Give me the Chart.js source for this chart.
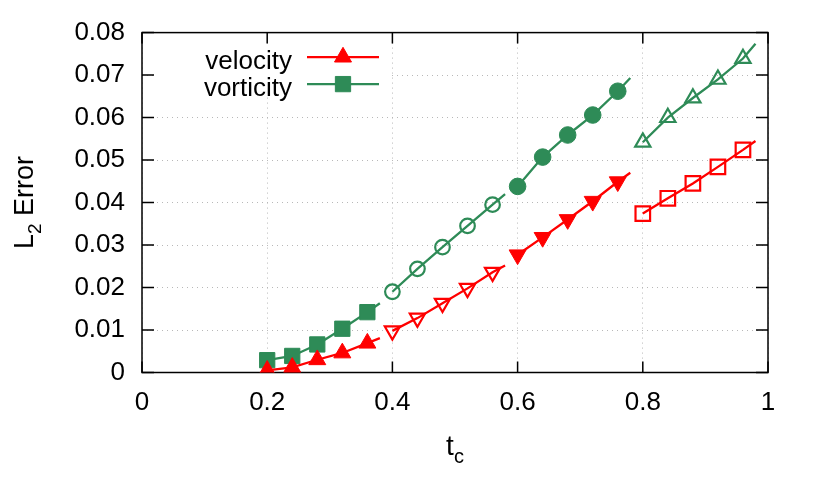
<!DOCTYPE html>
<html><head><meta charset="utf-8">
<script src="https://cdn.jsdelivr.net/npm/chart.js@4.4.1/dist/chart.umd.min.js"></script>
<style>html,body{margin:0;padding:0;background:#fff;}canvas{display:block;}</style>
</head><body>
<canvas id="c" width="814" height="488"></canvas>
<script>
// ---- tick values / labels ----
const xTickValues = [0, 0.2, 0.4, 0.6, 0.8, 1];
const xTickLabels = ['0', '0.2', '0.4', '0.6', '0.8', '1'];
const yTickValues = [0, 0.01, 0.02, 0.03, 0.04, 0.05, 0.06, 0.07, 0.08];
const yTickLabels = ['0', '0.01', '0.02', '0.03', '0.04', '0.05', '0.06', '0.07', '0.08'];

// ---- t_c values of each segment (last value = end of the drawn line, no marker) ----
const seg1X = [0.20, 0.24, 0.28, 0.32, 0.36, 0.38];
const seg2X = [0.40, 0.44, 0.48, 0.52, 0.56, 0.58];
const seg3X = [0.60, 0.64, 0.68, 0.72, 0.76, 0.78];
const seg4X = [0.80, 0.84, 0.88, 0.92, 0.96, 0.98];

// ---- L2 error, velocity ----
const velocity1 = [0.0005, 0.0012, 0.0030, 0.0046, 0.0069, 0.0081];
const velocity2 = [0.0098, 0.0128, 0.0163, 0.0198, 0.0236, 0.0252];
const velocity3 = [0.0277, 0.0318, 0.0360, 0.0403, 0.0449, 0.0470];
const velocity4 = [0.0374, 0.0410, 0.0445, 0.0484, 0.0524, 0.0545];

// ---- L2 error, vorticity ----
const vorticity1 = [0.0029, 0.0039, 0.0066, 0.0103, 0.0142, 0.0163];
const vorticity2 = [0.0190, 0.0244, 0.0295, 0.0345, 0.0395, 0.0420];
const vorticity3 = [0.0438, 0.0507, 0.0559, 0.0606, 0.0662, 0.0693];
const vorticity4 = [0.0542, 0.0600, 0.0646, 0.0690, 0.0739, 0.0774];

const seriesNames = ['velocity', 'vorticity'];

const RED = '#ff0000';
const GREEN = '#2e8b57';
const FONT = '"Liberation Sans", Arial, Helvetica, sans-serif';
const FS = 26;

function pts(xs, ys) { return xs.map((x, i) => ({ x: x, y: ys[i] })); }
function radii(r, n) { const a = []; for (let i = 0; i < n; i++) a.push(i === n - 1 ? 0 : r); return a; }

function ds(label, xs, ys, color, style, r, filled, rot) {
  return {
    label: label,
    data: pts(xs, ys),
    borderColor: color,
    borderWidth: 2.3,
    pointStyle: style,
    pointRadius: radii(r, xs.length),
    pointHoverRadius: radii(r, xs.length),
    pointRotation: rot || 0,
    pointBackgroundColor: filled ? color : 'rgba(0,0,0,0)',
    pointBorderColor: color,
    pointBorderWidth: filled ? 1 : 2.2,
    fill: false,
    tension: 0
  };
}

const datasets = [
  ds(seriesNames[0], seg1X, velocity1, RED, 'triangle', 9.8, true, 0),
  ds(seriesNames[0], seg2X, velocity2, RED, 'triangle', 8.8, false, 180),
  ds(seriesNames[0], seg3X, velocity3, RED, 'triangle', 9.8, true, 180),
  ds(seriesNames[0], seg4X, velocity4, RED, 'rect', 10.3, false, 0),
  ds(seriesNames[1], seg1X, vorticity1, GREEN, 'rect', 10.8, true, 0),
  ds(seriesNames[1], seg2X, vorticity2, GREEN, 'circle', 7.3, false, 0),
  ds(seriesNames[1], seg3X, vorticity3, GREEN, 'circle', 8.3, true, 0),
  ds(seriesNames[1], seg4X, vorticity4, GREEN, 'triangle', 8.8, false, 0)
];

function drawSubText(ctx, parts, cx, baseY, size) {
  let total = 0;
  parts.forEach(p => {
    ctx.font = (p.sub ? Math.round(size * 0.72) : size) + 'px ' + FONT;
    p.w = ctx.measureText(p.t).width; total += p.w;
  });
  let x = cx - total / 2;
  parts.forEach(p => {
    ctx.font = (p.sub ? Math.round(size * 0.72) : size) + 'px ' + FONT;
    ctx.fillText(p.t, x, baseY + (p.sub ? 8 : 0));
    x += p.w;
  });
}

const decor = {
  id: 'decor',
  beforeDatasetsDraw(chart) {
    const ctx = chart.ctx, a = chart.chartArea;
    ctx.save();
    // opaque key box
    ctx.fillStyle = '#fff';
    ctx.fillRect(a.left + 15, a.top + 11, 232, 52);
    // border
    ctx.strokeStyle = '#000';
    ctx.lineWidth = 1.5;
    ctx.strokeRect(a.left, a.top, a.right - a.left, a.bottom - a.top);
    // inward ticks
    ctx.beginPath();
    yTickValues.forEach(v => {
      const y = chart.scales.y.getPixelForValue(v);
      ctx.moveTo(a.left, y); ctx.lineTo(a.left + 12, y);
      ctx.moveTo(a.right, y); ctx.lineTo(a.right - 12, y);
    });
    xTickValues.forEach(v => {
      const x = chart.scales.x.getPixelForValue(v);
      ctx.moveTo(x, a.bottom); ctx.lineTo(x, a.bottom - 11);
      ctx.moveTo(x, a.top); ctx.lineTo(x, a.top + 11);
    });
    ctx.stroke();
    ctx.restore();
  },
  afterDraw(chart) {
    const ctx = chart.ctx, a = chart.chartArea;
    ctx.save();
    ctx.fillStyle = '#000';
    ctx.textBaseline = 'alphabetic';
    // key
    const keyRows = [
      { name: seriesNames[0], ds: datasets[0], y: a.top + 24.5, base: a.top + 36.5 },
      { name: seriesNames[1], ds: datasets[4], y: a.top + 51.5, base: a.top + 63 }
    ];
    keyRows.forEach(row => {
      ctx.font = FS + 'px ' + FONT;
      ctx.textAlign = 'right';
      ctx.fillStyle = '#000';
      ctx.fillText(row.name, a.left + 150, row.base);
      ctx.strokeStyle = row.ds.borderColor;
      ctx.lineWidth = 2.3;
      ctx.beginPath();
      ctx.moveTo(a.left + 165, row.y); ctx.lineTo(a.left + 237, row.y);
      ctx.stroke();
      ctx.fillStyle = row.ds.pointBackgroundColor;
      ctx.lineWidth = row.ds.pointBorderWidth;
      Chart.helpers.drawPoint(ctx, {
        pointStyle: row.ds.pointStyle,
        radius: row.ds.pointRadius[0],
        rotation: row.ds.pointRotation,
        borderWidth: row.ds.pointBorderWidth
      }, a.left + 201, row.y);
    });
    // axis titles
    ctx.fillStyle = '#000';
    ctx.textAlign = 'left';
    const cy = (a.top + a.bottom) / 2;
    ctx.save();
    ctx.translate(33, cy);
    ctx.rotate(-Math.PI / 2);
    drawSubText(ctx, [{ t: 'L' }, { t: '2', sub: true }, { t: ' Error' }], 0, 0, 27);
    ctx.restore();
    drawSubText(ctx, [{ t: 't' }, { t: 'c', sub: true }], (a.left + a.right) / 2, 455, 28);
    ctx.restore();
  }
};

new Chart(document.getElementById('c'), {
  type: 'line',
  data: { datasets: datasets },
  options: {
    responsive: false,
    animation: false,
    devicePixelRatio: 1,
    layout: { padding: { left: 0, right: 46, top: 28, bottom: 0 } },
    plugins: { legend: { display: false }, tooltip: { enabled: false }, title: { display: false } },
    scales: {
      x: {
        type: 'linear', min: 0, max: 1,
        afterFit(s) { s.height = 115.5; },
        afterBuildTicks(s) { s.ticks = xTickValues.map(v => ({ value: v })); },
        ticks: {
          callback: (v, i) => xTickLabels[i],
          font: { family: FONT, size: FS }, color: '#000', padding: 15, maxRotation: 0, autoSkip: false
        },
        grid: { color: '#b8b8b8', lineWidth: 1, drawTicks: false },
        border: { display: false, dash: [1, 4] }
      },
      y: {
        type: 'linear', min: 0, max: 0.08,
        afterFit(s) { s.width = 142; },
        afterBuildTicks(s) { s.ticks = yTickValues.map(v => ({ value: v })); },
        ticks: {
          callback: (v, i) => yTickLabels[i],
          font: { family: FONT, size: FS }, color: '#000', padding: 17, autoSkip: false
        },
        grid: { color: '#b8b8b8', lineWidth: 1, drawTicks: false },
        border: { display: false, dash: [1, 4] }
      }
    }
  },
  plugins: [decor]
});
</script>
</body></html>
